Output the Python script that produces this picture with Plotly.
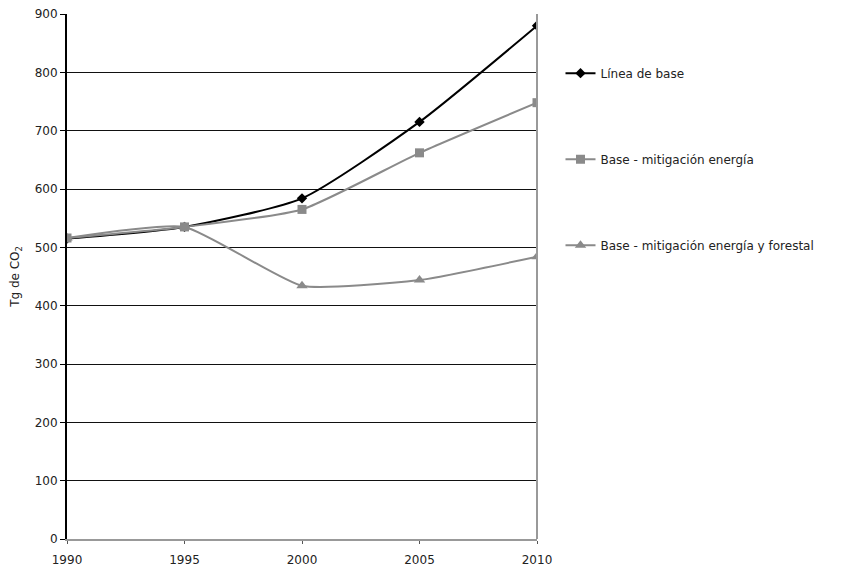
import plotly.graph_objects as go

years = [1990, 1995, 2000, 2005, 2010]
linea_base = [515, 535, 584, 715, 880]
mitig_energia = [516, 535, 565, 662, 748]
mitig_forestal = [516, 535, 434, 444, 484]
names = ["Línea de base", "Base - mitigación energía", "Base - mitigación energía y forestal"]

fig = go.Figure()
fig.add_trace(go.Scatter(x=years, y=linea_base, name=names[0], mode="lines+markers",
                         line=dict(color="#000000", width=2, shape="spline", smoothing=0.6),
                         marker=dict(symbol="diamond", size=8, color="#000000"),
                         legendgroup="a"))
fig.add_trace(go.Scatter(x=years, y=mitig_energia, name=names[1], mode="lines+markers",
                         line=dict(color="#8a8a8a", width=2, shape="spline", smoothing=0.55),
                         marker=dict(symbol="square", size=9, color="#8a8a8a"),
                         legendgroup="b"))
fig.add_trace(go.Scatter(x=years, y=mitig_forestal, name=names[2], mode="lines+markers",
                         line=dict(color="#8a8a8a", width=2, shape="spline", smoothing=0.5),
                         marker=dict(symbol="triangle-up", size=10, color="#8a8a8a"),
                         legendgroup="c"))

fig.update_layout(
    width=841, height=563,
    margin=dict(l=59, r=312, t=6, b=32, autoexpand=False),
    paper_bgcolor="white", plot_bgcolor="white",
    font=dict(family="DejaVu Sans", size=12, color="#222222"),
    showlegend=True,
    legend=dict(x=1.05, y=0.915, xanchor="left", yanchor="top",
                tracegroupgap=67, font=dict(size=12, family="DejaVu Sans"),
                itemwidth=30, bgcolor="rgba(0,0,0,0)"),
    xaxis=dict(range=[1990, 2010], tickvals=years, ticktext=[str(y) for y in years],
               showgrid=False, zeroline=False, showline=True, linecolor="#999999", linewidth=2,
               ticks="outside", ticklen=3, tickcolor="#555555", automargin=False,
               ticklabelstandoff=6, ticklabeloverflow="allow"),
    yaxis=dict(range=[0, 900], tickvals=list(range(0, 901, 100)),
               showgrid=True, gridcolor="#111111", gridwidth=1.2, zeroline=False,
               showline=True, linecolor="#000000", linewidth=2,
               ticks="outside", ticklen=5, tickcolor="#000000", automargin=False,
               ticklabeloverflow="allow",
               title=dict(text="Tg de CO<sub>2</sub>", standoff=14, font=dict(size=12))),
    shapes=[dict(type="line", xref="paper", yref="paper", x0=1, x1=1, y0=0, y1=1,
                 line=dict(color="#999999", width=2))],
)

fig.write_html("out.html")
